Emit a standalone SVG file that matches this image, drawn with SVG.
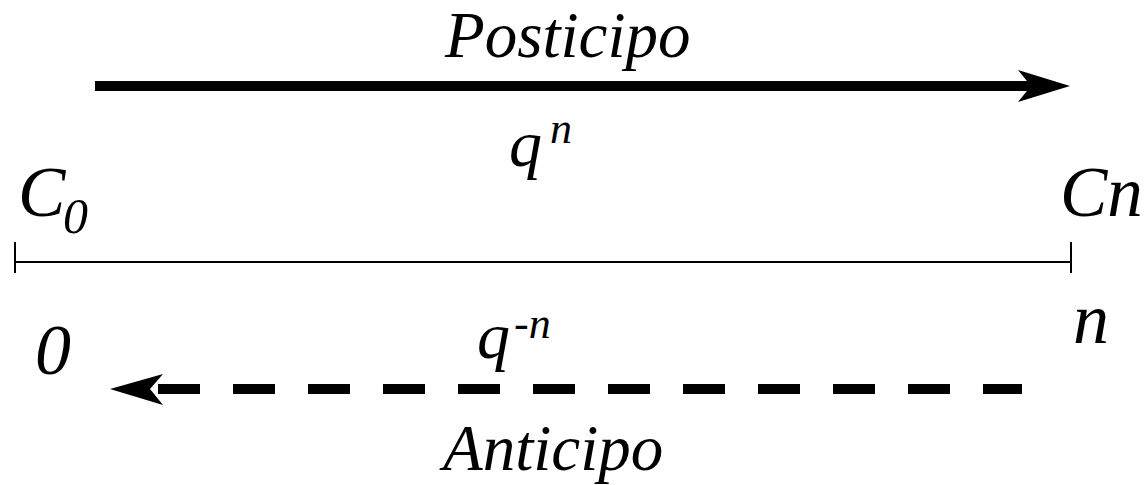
<svg xmlns="http://www.w3.org/2000/svg" width="1148" height="485" viewBox="0 0 1148 485">
<style>
text{font-family:"Liberation Serif","Times New Roman",serif;font-style:italic;fill:#000}
.title{font-size:65px}
.var{font-size:66px}
.sup{font-size:44px}
.lbl{font-size:71px}
.sub{font-size:50px}
.num{font-size:72px}
</style>
<rect width="1148" height="485" fill="#fff"/>
<g id="connectors">
<line x1="15" y1="262" x2="1071" y2="262" stroke="#000" stroke-width="2"/>
<line x1="15" y1="242" x2="15" y2="273" stroke="#000" stroke-width="2"/>
<line x1="1071" y1="242" x2="1071" y2="273" stroke="#000" stroke-width="2"/>
<line x1="95" y1="86" x2="1035" y2="86" stroke="#000" stroke-width="10"/>
<path d="M1070,86 L1018,70 L1031,86 L1018,102 Z" fill="#000"/>
<line x1="158" y1="389" x2="1022" y2="389" stroke="#000" stroke-width="10" stroke-dasharray="42,33"/>
<path d="M110,389 L163,374 L150,389 L163,405 Z" fill="#000"/>
</g>
<g id="posticipo"><text class="title" x="445" y="57">Posticipo</text></g>
<g id="anticipo"><text class="title" x="443" y="470">Anticipo</text></g>
<g id="qn"><text class="var" x="509" y="166">q</text><text class="sup" x="550" y="143">n</text></g>
<g id="qmn"><text class="var" x="477" y="358">q</text><text class="sup" x="514" y="338">-n</text></g>
<g id="c0"><text class="lbl" x="18" y="216">C</text><text class="sub" x="63" y="233">0</text></g>
<g id="cn"><text class="lbl" x="1060" y="216">Cn</text></g>
<g id="zero"><text class="num" x="35" y="374">0</text></g>
<g id="n"><text class="num" x="1073" y="343">n</text></g>
</svg>
